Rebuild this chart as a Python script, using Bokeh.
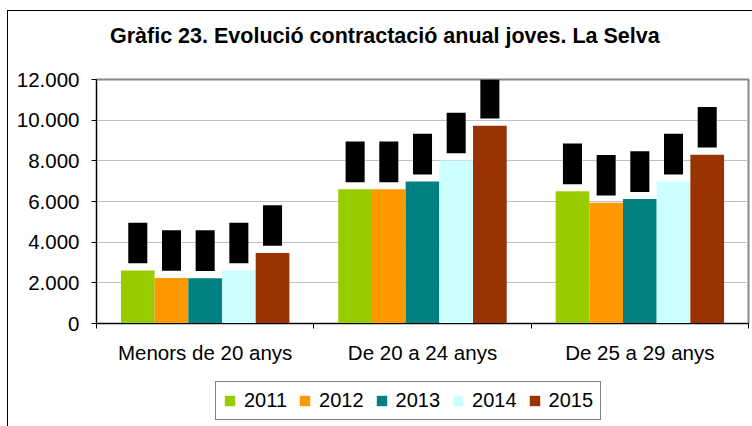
from bokeh.plotting import figure
from bokeh.models import Range1d, FixedTicker, Legend, LegendItem, Div
from bokeh.layouts import column
from bokeh.embed import file_html
from bokeh.resources import INLINE

# ---- data ----
categories = ["Menors de 20 anys", "De 20 a 24 anys", "De 25 a 29 anys"]
years = ["2011", "2012", "2013", "2014", "2015"]
v2011 = [2610, 6600, 6500]
v2012 = [2240, 6600, 5940]
v2013 = [2230, 6980, 6120]
v2014 = [2610, 8020, 6980]
v2015 = [3470, 9730, 8300]
series = [v2011, v2012, v2013, v2014, v2015]
colors = ["#99cc00", "#ff9900", "#008080", "#ccffff", "#993300"]
y_ticks = [0, 2000, 4000, 6000, 8000, 10000, 12000]
y_tick_labels = ["0", "2.000", "4.000", "6.000", "8.000", "10.000", "12.000"]
title_text = "Gràfic 23. Evolució contractació anual joves. La Selva"

FONT = "Liberation Sans"
BAR_W = 0.155
LABEL_W = 0.0876
LABEL_GAP = 350
LABEL_H = 2000
W = 744

# ---- title ----
title_div = Div(
    text=('<div style="padding-top:12px; padding-left:102px; font-family:\'Liberation Sans\';'
          ' font-size:21.5px; font-weight:bold; line-height:26px; color:black;'
          ' white-space:nowrap;">' + title_text + '</div>'),
    width=W, height=40, margin=0)

# ---- main chart ----
p = figure(width=W, height=324, output_backend="svg", toolbar_location=None, title=None,
           x_range=Range1d(0, 3), y_range=Range1d(0, 12000),
           min_border_left=88, min_border_right=4, min_border_top=28,
           min_border_bottom=52)

for j, (vals, col) in enumerate(zip(series, colors)):
    xs = [i + 0.5 + (j - 2) * BAR_W for i in range(len(categories))]
    p.vbar(x=xs, top=vals, width=BAR_W, bottom=0, fill_color=col, line_color=None)
    # hidden (blacked-out) data labels
    p.vbar(x=xs, bottom=[v + LABEL_GAP for v in vals], top=[v + LABEL_GAP + LABEL_H for v in vals],
           width=LABEL_W, fill_color="black", line_color=None)

p.yaxis.ticker = FixedTicker(ticks=y_ticks)
p.yaxis.major_label_overrides = {t: s for t, s in zip(y_ticks, y_tick_labels)}
p.yaxis.major_label_text_font = FONT
p.yaxis.major_label_text_font_size = "20.5px"
p.yaxis.major_label_text_color = "black"
p.yaxis.major_tick_out = 5
p.yaxis.major_tick_in = 0
p.yaxis.minor_tick_out = 0
p.yaxis.major_label_standoff = 12
p.yaxis.axis_line_color = "black"

centers = [i + 0.5 for i in range(len(categories))]
bounds = [float(i) for i in range(len(categories) + 1)]
p.xaxis.ticker = FixedTicker(ticks=centers, minor_ticks=bounds)
p.xaxis.major_label_overrides = {c: s for c, s in zip(centers, categories)}
p.xaxis.major_label_text_font = FONT
p.xaxis.major_label_text_font_size = "20.5px"
p.xaxis.major_label_text_color = "black"
p.xaxis.major_tick_out = 0
p.xaxis.major_tick_in = 0
p.xaxis.minor_tick_out = 5
p.xaxis.minor_tick_in = 0
p.xaxis.major_label_standoff = 12
p.xaxis.axis_line_color = "black"

p.xgrid.grid_line_color = None
p.ygrid.grid_line_color = "#c0c0c0"
p.outline_line_color = "#888888"
p.outline_line_width = 2

# ---- legend strip ----
lf = figure(width=W, height=51, output_backend="svg", toolbar_location=None, title=None,
            x_range=Range1d(0, 1), y_range=Range1d(0, 1),
            x_axis_location=None, y_axis_location=None, min_border=0)
lf.grid.grid_line_color = None
lf.outline_line_color = None
items = []
for col, yr in zip(colors, years):
    # zero-height legend proxy
    r = lf.vbar(x=[0.5], top=[0], bottom=0, width=0.1, fill_color=col, line_color=None)
    items.append(LegendItem(label=yr, renderers=[r]))
legend = Legend(items=items, orientation="horizontal", location=(119, 6),
                label_text_font=FONT, label_text_font_size="20px", label_text_color="black",
                glyph_width=13, glyph_height=13, label_standoff=8, spacing=11,
                padding=7, margin=0, border_line_color="black", border_line_width=1,
                background_fill_alpha=1)
lf.add_layout(legend, "center")

layout = column(title_div, p, lf, spacing=0)
layout.styles = {"margin-left": "7px", "margin-top": "10px",
                 "border-left": "1px solid black", "border-top": "1px solid black"}

open("out.html", "w").write(file_html(layout, INLINE))
